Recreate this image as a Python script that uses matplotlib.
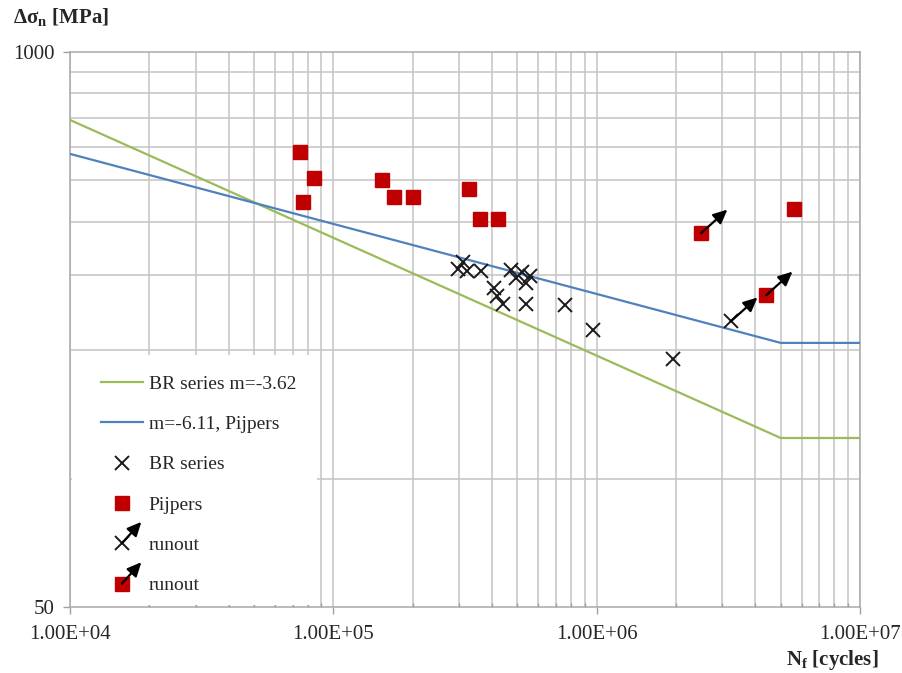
import matplotlib
matplotlib.use("Agg")
import matplotlib.pyplot as plt
from matplotlib.lines import Line2D
from matplotlib.patches import Rectangle, FancyArrowPatch
from matplotlib.legend_handler import HandlerBase

GREEN, BLUE, RED, INK, GRID = "#9bbb59", "#4f81bd", "#c00000", "#1a1a1a", "#c4c4c4"
plt.rcParams.update({
    "font.family": "Liberation Serif", "font.size": 14,
    "mathtext.fontset": "custom", "mathtext.rm": "Liberation Serif",
    "mathtext.bf": "Liberation Serif:bold",
    "xtick.color": "#a0a0a0", "ytick.color": "#a0a0a0",
    "xtick.labelcolor": "#262626", "ytick.labelcolor": "#262626",
})

# S-N curves (kink at the constant amplitude fatigue limit)
br_N = [1e4, 5.0e6, 1e7]
br_S = [693, 124.5, 124.5]
pij_N = [1e4, 5.0e6, 1e7]
pij_S = [577, 208, 208]

# BR series test results
brx_N = [2.98e5, 3.11e5, 3.22e5, 3.64e5, 4.08e5, 4.18e5, 4.41e5, 4.73e5,
         4.94e5, 5.21e5, 5.39e5, 5.59e5, 5.39e5, 7.59e5, 9.69e5, 1.95e6]
brx_S = [310, 322, 307, 307, 280, 268, 257, 308,
         295, 305, 288, 299, 257, 255, 223, 191]
brx_run_N = [3.24e6]
brx_run_S = [234]

# Pijpers test results
pij_pts_N = [7.47e4, 8.47e4, 7.65e4, 1.527e5, 1.705e5, 2.013e5, 3.277e5,
             3.607e5, 4.21e5, 5.62e6]
pij_pts_S = [584, 506, 446, 501, 458, 456, 477, 406, 406, 428]
pij_run_N = [2.49e6, 4.40e6]
pij_run_S = [376, 269]

xticks = [1e4, 1e5, 1e6, 1e7]
xticklabels = ["1.00E+04", "1.00E+05", "1.00E+06", "1.00E+07"]
yticks = [50, 1000]
ygrid = [100, 200, 300, 400, 500, 600, 700, 800, 900]

fig = plt.figure(figsize=(9.02, 6.73), dpi=100)
ax = fig.add_axes([70 / 902, 1 - 607 / 673, 790 / 902, 555 / 673])
ax.set_xscale("log")
ax.set_yscale("log")
ax.set_xlim(1e4, 1e7)
ax.set_ylim(50, 1000)

ax.set_xticks(xticks)
ax.set_xticklabels(xticklabels, fontsize=15)
ax.set_yticks(yticks)
ax.set_yticklabels([str(v) for v in yticks], fontsize=15)
ax.set_yticks(ygrid, minor=True)
ax.set_yticklabels([], minor=True)
ax.tick_params(axis="x", which="major", direction="out", length=5, width=1, pad=8)
ax.tick_params(axis="x", which="minor", direction="in", length=3, width=1)
ax.tick_params(axis="y", which="major", direction="out", length=5, width=1, pad=6)
ax.tick_params(axis="y", which="minor", length=0)
ax.grid(which="both", axis="x", color=GRID, lw=1.1)
ax.grid(which="minor", axis="y", color=GRID, lw=1.1)
ax.set_axisbelow(True)
for s in ax.spines.values():
    s.set_color("#a8a8a8")
    s.set_linewidth(1.1)

ax.plot(br_N, br_S, color=GREEN, lw=1.6, zorder=3)
ax.plot(pij_N, pij_S, color=BLUE, lw=1.6, zorder=3)

XKW = dict(marker="x", ms=10, mew=1.4, color=INK, ls="none", zorder=4)
SKW = dict(marker="s", ms=10, color=RED, mec=RED, ls="none", zorder=4)
ax.plot(brx_N, brx_S, **XKW)
ax.plot(brx_run_N, brx_run_S, **XKW)
ax.plot(pij_pts_N, pij_pts_S, **SKW)
ax.plot(pij_run_N, pij_run_S, **SKW)

ARW = dict(arrowstyle="<|-,head_length=0.6,head_width=0.28", color="black",
           lw=1.6, mutation_scale=14, shrinkA=0, shrinkB=0)
for n, s in zip(brx_run_N + pij_run_N, brx_run_S + pij_run_S):
    ax.annotate("", xy=(n, s), xytext=(19, 17), textcoords="offset points",
                arrowprops=ARW, zorder=5)

# white box behind the legend hides the grid there
ax.add_patch(Rectangle(((72 - 70) / 790, 2 / 555), 245 / 790, 250 / 555,
                       transform=ax.transAxes, facecolor="white",
                       edgecolor="none", zorder=1.5))


class Runout(HandlerBase):
    def create_artists(self, legend, orig, xd, yd, width, height, fontsize, trans):
        cx, cy = width * 0.5 - xd, height * 0.5 - yd
        m = Line2D([cx], [cy], marker=orig.get_marker(), ms=orig.get_markersize(),
                   mew=orig.get_markeredgewidth(), color=orig.get_color(),
                   mec=orig.get_markeredgecolor(), ls="none", transform=trans)
        a = FancyArrowPatch((cx + 1.0 * fontsize, cy + 1.1 * fontsize), (cx, cy),
                            arrowstyle="<|-,head_length=0.6,head_width=0.28",
                            color="black", lw=1.6, mutation_scale=14,
                            shrinkA=0, shrinkB=0, transform=trans)
        return [m, a]


h_br = Line2D([], [], color=GREEN, lw=1.6)
h_pj = Line2D([], [], color=BLUE, lw=1.6)
h_x = Line2D([], [], **XKW)
h_s = Line2D([], [], **SKW)
h_rx = Line2D([], [], **XKW)
h_rs = Line2D([], [], **SKW)
leg = ax.legend([h_br, h_pj, h_x, h_s, h_rx, h_rs],
                ["BR series m=-3.62", "m=-6.11, Pijpers", "BR series", "Pijpers",
                 "runout", "runout"],
                handler_map={h_rx: Runout(), h_rs: Runout()},
                loc="upper left", bbox_to_anchor=((101 - 70) / 790, (607 - 375) / 555),
                frameon=False, borderpad=0, borderaxespad=0, fontsize=14,
                handlelength=2.15, handletextpad=0.3, labelspacing=1.17)
leg.set_zorder(6)
for t in leg.get_texts():
    t.set_color("#262626")

fig.text(13 / 902, 1 - 18 / 673, r"Δσ$_{\mathregular{n}}$ [MPa]", fontsize=15,
         fontweight="bold", va="center", ha="left", color="#262626")
fig.text(879 / 902, 1 - 660 / 673, r"N$_{\mathregular{f}}$ [cycles]", fontsize=15,
         fontweight="bold", va="center", ha="right", color="#262626")

fig.savefig("out.png", dpi=100)
